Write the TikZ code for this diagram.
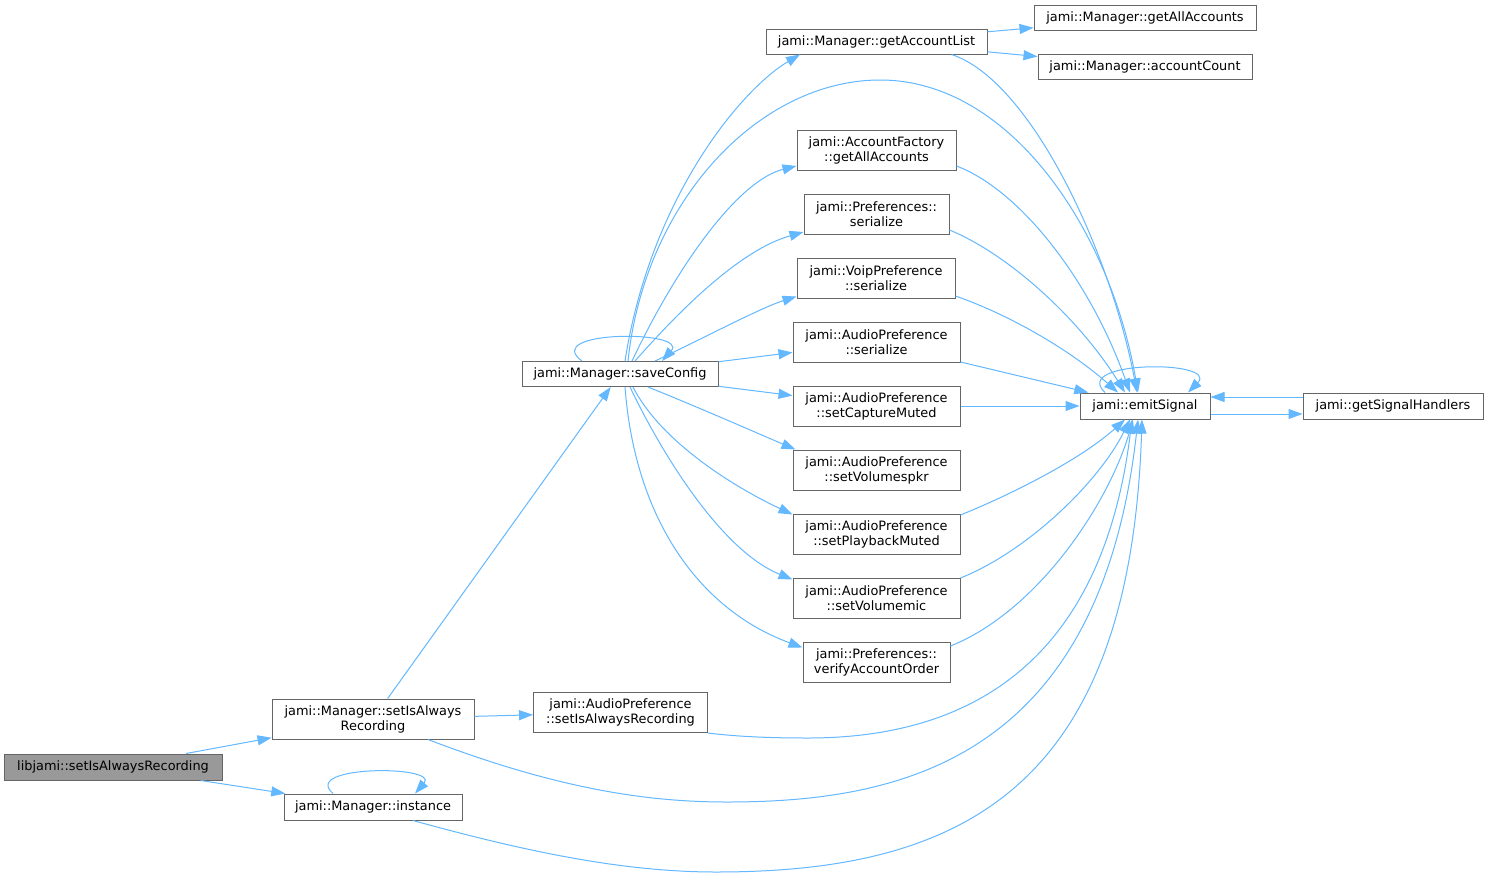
\documentclass[tikz,border=0pt]{standalone}
\usepackage{fontspec}
\setmainfont{DejaVu Sans}
\usetikzlibrary{arrows.meta}
\definecolor{edgeblue}{HTML}{63B8FF}
\definecolor{boxgray}{HTML}{666666}
\definecolor{libgray}{HTML}{999999}
\tikzset{
  box/.style={draw=boxgray, line width=1pt, fill=white, inner sep=0pt, align=center,
    font=\fontsize{12.9}{15}\selectfont},
  edge/.style={draw=edgeblue, line width=1pt, -{Triangle[length=14pt,width=10pt]}}
}
\begin{document}
\begin{tikzpicture}[x=1pt,y=-1pt]
\fill[white] (0,0) rectangle (1488,878);
\useasboundingbox (0,0) rectangle (1488,878);

\node[box, fill=libgray, minimum width=218pt, minimum height=26pt] (lib) at (113,767) {libjami::setIsAlwaysRecording};
\node[box, minimum width=202pt, minimum height=40pt] (msar) at (373,719) {jami::Manager::setIsAlways\\Recording};
\node[box, minimum width=178pt, minimum height=26pt] (inst) at (373,807) {jami::Manager::instance};
\node[box, minimum width=174pt, minimum height=40pt] (apsar) at (620.5,712.5) {jami::AudioPreference\\::setIsAlwaysRecording};
\node[box, minimum width=196pt, minimum height=25pt] (sc) at (620,374) {jami::Manager::saveConfig};
\node[box, minimum width=221pt, minimum height=25pt] (gal) at (876.5,41.5) {jami::Manager::getAccountList};
\node[box, minimum width=222pt, minimum height=25pt] (mgaa) at (1145,18) {jami::Manager::getAllAccounts};
\node[box, minimum width=214pt, minimum height=25pt] (acnt) at (1145,66.5) {jami::Manager::accountCount};
\node[box, minimum width=159pt, minimum height=40pt] (afga) at (876.5,150) {jami::AccountFactory\\::getAllAccounts};
\node[box, minimum width=145pt, minimum height=40pt] (pser) at (876.5,214) {jami::Preferences::\\serialize};
\node[box, minimum width=158pt, minimum height=40pt] (vser) at (876,278) {jami::VoipPreference\\::serialize};
\node[box, minimum width=167pt, minimum height=40pt] (aser) at (876.5,342) {jami::AudioPreference\\::serialize};
\node[box, minimum width=167pt, minimum height=40pt] (scm) at (876.5,406) {jami::AudioPreference\\::setCaptureMuted};
\node[box, minimum width=167pt, minimum height=40pt] (svs) at (876.5,470) {jami::AudioPreference\\::setVolumespkr};
\node[box, minimum width=167pt, minimum height=40pt] (spm) at (876.5,534) {jami::AudioPreference\\::setPlaybackMuted};
\node[box, minimum width=167pt, minimum height=40pt] (svm) at (876.5,598) {jami::AudioPreference\\::setVolumemic};
\node[box, minimum width=147pt, minimum height=40pt] (vao) at (876.5,662) {jami::Preferences::\\verifyAccountOrder};
\node[box, minimum width=130pt, minimum height=26pt] (emit) at (1145,406) {jami::emitSignal};
\node[box, minimum width=180pt, minimum height=26pt] (gsh) at (1393,406) {jami::getSignalHandlers};

% from libjami
\draw[edge] (lib) -- (msar);
\draw[edge] (lib) -- (inst);
% from Manager::setIsAlwaysRecording
\draw[edge] (msar) -- (sc);
\draw[edge] (msar) -- (apsar);
\draw[edge] ([xshift=55pt]msar.south) .. controls (560,790) and (650,802) .. (727,802)
  .. controls (900,802) and (1100,760) .. ([xshift=-7pt]emit.south);
% instance
\draw[edge] ([xshift=40pt]inst.south) .. controls (520,850) and (620,872) .. (716,872)
  .. controls (960,872) and (1130,790) .. ([xshift=-3pt]emit.south);
\draw[edge] ([xshift=-40pt]inst.north) .. controls (300,765) and (440,765) .. ([xshift=42pt]inst.north);
% AudioPreference::setIsAlwaysRecording
\draw[edge] (apsar.south east) .. controls (740,737) and (775,738) .. (808,738)
  .. controls (950,738) and (1100,680) .. ([xshift=-13pt]emit.south);
% saveConfig
\draw[edge] ([xshift=5pt]sc.north) .. controls (650,200) and (740,90) .. ([xshift=-76.5pt]gal.south);
\draw[edge] ([xshift=8pt]sc.north) .. controls (645,200) and (760,80) .. (880,80)
  .. controls (1010,80) and (1110,230) .. ([xshift=-7pt]emit.north);
\draw[edge] ([xshift=12pt]sc.north) .. controls (680,260) and (740,180) .. ([yshift=-16pt]afga.west);
\draw[edge] ([xshift=15pt]sc.north) .. controls (680,310) and (740,250) .. ([yshift=-18pt]pser.west);
\draw[edge] ([xshift=35pt]sc.north) .. controls (700,340) and (760,308) .. ([yshift=2pt]vser.south west);
\draw[edge] ([xshift=-38pt]sc.north) .. controls (540,330) and (690,330) .. ([xshift=42pt]sc.north);
\draw[edge] (sc) -- (aser);
\draw[edge] (sc) -- (scm);
\draw[edge] ([xshift=28pt]sc.south) .. controls (700,408) and (750,430) .. ([xshift=3pt]svs.north west);
\draw[edge] ([xshift=13pt]sc.south) .. controls (660,440) and (730,485) .. ([yshift=-1pt]spm.north west);
\draw[edge] ([xshift=10pt]sc.south) .. controls (660,450) and (720,550) .. ([yshift=-2pt]svm.north west);
\draw[edge] ([xshift=5pt]sc.south) .. controls (635,520) and (700,610) .. ([yshift=-6pt]vao.north west);
% getAccountList
\draw[edge] (gal) -- (mgaa);
\draw[edge] (gal) -- (acnt);
\draw[edge] ([xshift=75pt]gal.south) .. controls (1030,80) and (1110,250) .. ([xshift=-8pt]emit.north);
% to emitSignal
\draw[edge] ([yshift=-16pt]afga.east) .. controls (1020,190) and (1090,280) .. ([xshift=-15pt]emit.north);
\draw[edge] ([yshift=-16pt]pser.east) .. controls (1010,255) and (1080,320) .. ([xshift=-20pt]emit.north);
\draw[edge] ([yshift=-18pt]vser.east) .. controls (1010,315) and (1070,350) .. ([xshift=-27pt]emit.north);
\draw[edge] (aser) -- (emit);
\draw[edge] (scm) -- (emit);
\draw[edge] ([yshift=19pt]spm.east) .. controls (1010,495) and (1080,460) .. ([xshift=-20pt]emit.south);
\draw[edge] ([yshift=20pt]svm.east) .. controls (1030,550) and (1100,480) .. ([xshift=-15pt]emit.south);
\draw[edge] ([yshift=16pt]vao.east) .. controls (1040,610) and (1110,500) .. ([xshift=-12pt]emit.south);
% emitSignal
\draw[edge] ([xshift=-40pt]emit.north) .. controls (1070,360) and (1220,360) .. ([xshift=43pt]emit.north);
\draw[edge] ([yshift=9pt]gsh.west) -- ([yshift=9pt]emit.east);
\draw[edge] ([yshift=-8pt]emit.east) -- ([yshift=-8pt]gsh.west);
\end{tikzpicture}
\end{document}
